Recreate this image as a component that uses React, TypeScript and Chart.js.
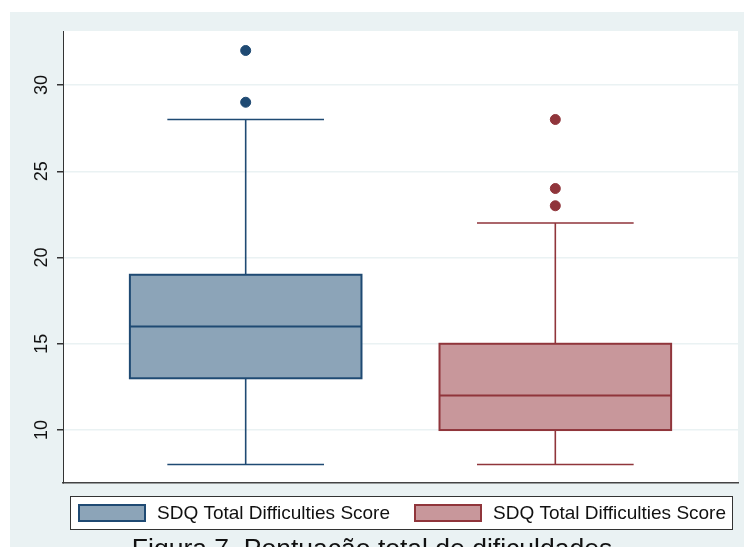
import React, { useEffect, useRef } from "react";
import { Chart, registerables } from "chart.js";

Chart.register(...registerables);

// Box plot summary per group
const groupLabels = ["SDQ Total Difficulties Score", "SDQ Total Difficulties Score"];
const groupPositions = [1, 2];
const lowerWhisker = [8, 8];
const lowerQuartile = [13, 10];
const medians = [16, 12];
const upperQuartile = [19, 15];
const upperWhisker = [28, 22];
const outliersGroup1 = [29, 32];
const outliersGroup2 = [23, 24, 28];
const yTickValues = [10, 15, 20, 25, 30];
const captionText = "Figura 7. Pontuação total de dificuldades";

const strokeColors = ["#1f4a73", "#90353b"];
const fillColors = ["#8ca4b8", "#c8979b"];
const FONT = "'Liberation Sans', Arial, Helvetica, sans-serif";

const boxHalfWidth = 0.374;
const capHalfWidth = 0.253;

const boxPlotPlugin = {
  id: "boxPlot",
  beforeDraw(chart: any) {
    const { ctx, chartArea } = chart;
    ctx.save();
    ctx.fillStyle = "#ffffff";
    ctx.fillRect(0, 0, chart.width, chart.height);
    ctx.fillStyle = "#eaf2f3";
    ctx.fillRect(10, 12, chart.width - 10, chart.height - 12);
    ctx.fillStyle = "#ffffff";
    ctx.fillRect(
      chartArea.left,
      chartArea.top,
      chartArea.right - chartArea.left,
      chartArea.bottom - chartArea.top
    );
    ctx.restore();
  },
  beforeDatasetsDraw(chart: any) {
    const { ctx } = chart;
    const xs = chart.scales.x;
    const ys = chart.scales.y;
    ctx.save();
    groupPositions.forEach((pos, i) => {
      const cx = xs.getPixelForValue(pos);
      const bl = xs.getPixelForValue(pos - boxHalfWidth);
      const br = xs.getPixelForValue(pos + boxHalfWidth);
      const cl = xs.getPixelForValue(pos - capHalfWidth);
      const cr = xs.getPixelForValue(pos + capHalfWidth);
      const yLo = ys.getPixelForValue(lowerWhisker[i]);
      const yQ1 = ys.getPixelForValue(lowerQuartile[i]);
      const yMed = ys.getPixelForValue(medians[i]);
      const yQ3 = ys.getPixelForValue(upperQuartile[i]);
      const yHi = ys.getPixelForValue(upperWhisker[i]);
      ctx.strokeStyle = strokeColors[i];
      ctx.lineWidth = 1.6;
      // whiskers and caps
      ctx.beginPath();
      ctx.moveTo(cx, yQ3);
      ctx.lineTo(cx, yHi);
      ctx.moveTo(cl, yHi);
      ctx.lineTo(cr, yHi);
      ctx.moveTo(cx, yQ1);
      ctx.lineTo(cx, yLo);
      ctx.moveTo(cl, yLo);
      ctx.lineTo(cr, yLo);
      ctx.stroke();
      // box
      ctx.fillStyle = fillColors[i];
      ctx.fillRect(bl, yQ3, br - bl, yQ1 - yQ3);
      ctx.lineWidth = 2;
      ctx.strokeRect(bl, yQ3, br - bl, yQ1 - yQ3);
      ctx.beginPath();
      ctx.moveTo(bl, yMed);
      ctx.lineTo(br, yMed);
      ctx.stroke();
    });
    ctx.restore();
  },
  afterDraw(chart: any) {
    const { ctx } = chart;
    const ys = chart.scales.y;
    ctx.save();
    // rotated y tick labels
    ctx.fillStyle = "#111111";
    ctx.font = `18px ${FONT}`;
    ctx.textAlign = "center";
    ctx.textBaseline = "middle";
    ys.ticks.forEach((t: any) => {
      const y = ys.getPixelForValue(t.value);
      ctx.save();
      ctx.translate(42, y);
      ctx.rotate(-Math.PI / 2);
      ctx.fillText(String(t.value), 0, 0);
      ctx.restore();
    });

    // legend
    const lx = 70.5;
    const ly = 496.5;
    const lw = 662;
    const lh = 33;
    ctx.fillStyle = "#ffffff";
    ctx.fillRect(lx, ly, lw, lh);
    ctx.strokeStyle = "#333333";
    ctx.lineWidth = 1;
    ctx.strokeRect(lx, ly, lw, lh);
    const swatchX = [79, 415];
    groupLabels.forEach((label, i) => {
      ctx.fillStyle = fillColors[i];
      ctx.fillRect(swatchX[i], 505, 66, 16);
      ctx.strokeStyle = strokeColors[i];
      ctx.lineWidth = 2;
      ctx.strokeRect(swatchX[i], 505, 66, 16);
      ctx.fillStyle = "#111111";
      ctx.font = `19px ${FONT}`;
      ctx.textAlign = "left";
      ctx.textBaseline = "middle";
      ctx.fillText(label, swatchX[i] + 78, 514);
    });

    // caption
    ctx.fillStyle = "#111111";
    ctx.font = `26.5px ${FONT}`;
    ctx.textAlign = "center";
    ctx.textBaseline = "alphabetic";
    ctx.fillText(captionText, 372, 557);
    ctx.restore();
  },
};

export default function App() {
  const canvasRef = useRef<HTMLCanvasElement | null>(null);

  useEffect(() => {
    const canvas = canvasRef.current;
    if (!canvas) return;
    const chart = new Chart(canvas, {
      type: "scatter",
      data: {
        datasets: [
          {
            label: groupLabels[0],
            data: outliersGroup1.map((v) => ({ x: groupPositions[0], y: v })),
            backgroundColor: strokeColors[0],
            borderColor: strokeColors[0],
            pointRadius: 5,
            pointHoverRadius: 5,
          },
          {
            label: groupLabels[1],
            data: outliersGroup2.map((v) => ({ x: groupPositions[1], y: v })),
            backgroundColor: strokeColors[1],
            borderColor: strokeColors[1],
            pointRadius: 5,
            pointHoverRadius: 5,
          },
        ],
      },
      options: {
        animation: false,
        responsive: false,
        devicePixelRatio: 1,
        events: [],
        layout: { padding: { left: 10, top: 31, right: 5, bottom: 64 } },
        plugins: {
          legend: { display: false },
          tooltip: { enabled: false },
          title: { display: false },
        },
        scales: {
          x: {
            type: "linear",
            min: 0.41,
            max: 2.59,
            ticks: { display: false },
            grid: { display: false, drawTicks: false },
            border: { display: true, color: "#444444", width: 1.5 },
            afterFit: (s: any) => {
              s.height = 0;
            },
          },
          y: {
            type: "linear",
            min: 6.93,
            max: 33.13,
            afterBuildTicks: (s: any) => {
              s.ticks = yTickValues.map((v) => ({ value: v }));
            },
            ticks: { display: false },
            grid: {
              color: "#eaf2f3",
              lineWidth: 1.5,
              drawTicks: true,
              tickLength: 6,
              tickColor: "#333333",
            },
            border: { display: true, color: "#333333", width: 1 },
            afterFit: (s: any) => {
              s.width = 53;
            },
          },
        },
      },
      plugins: [boxPlotPlugin],
    });
    return () => chart.destroy();
  }, []);

  return (
    <div style={{ position: "fixed", left: 0, top: 0, width: 744, height: 547 }}>
      <canvas ref={canvasRef} width={744} height={547} style={{ display: "block" }} />
    </div>
  );
}
